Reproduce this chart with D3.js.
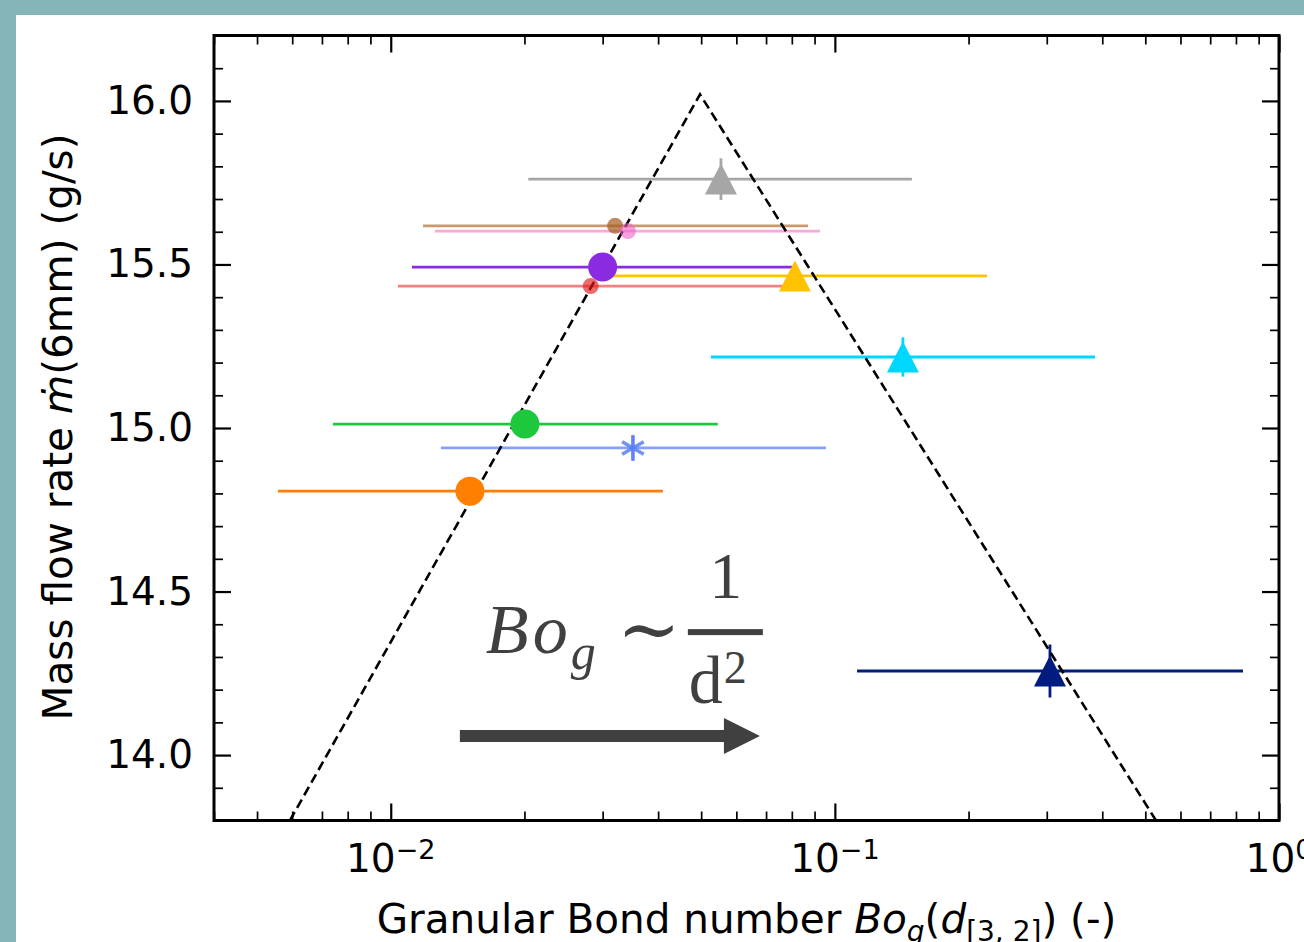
<!DOCTYPE html>
<html>
<head>
<meta charset="utf-8">
<script src="https://cdn.jsdelivr.net/npm/d3@7"></script>
<style>
  body { margin: 0; padding: 0; background: #ffffff; }
  svg { display: block; }
</style>
</head>
<body>
<svg id="Chart"></svg>
<script>
// samples, in drawing order
let sampleNames = ["gray", "cyan", "navy", "yellow", "brown", "pink", "red", "purple", "green", "blue", "orange"]
let bogValues = [0.0554, 0.1423, 0.305, 0.0813, 0.0320, 0.0342, 0.0282, 0.0300, 0.02005, 0.0351, 0.01508]
let bogLow = [0.0204, 0.0526, 0.1122, 0.0300, 0.01182, 0.01258, 0.01038, 0.01116, 0.00741, 0.01297, 0.00557]
let bogHigh = [0.1491, 0.3852, 0.8297, 0.2201, 0.0870, 0.0926, 0.0764, 0.0813, 0.0545, 0.0955, 0.0410]
let flowRates = [15.761, 15.217, 14.257, 15.465, 15.618, 15.602, 15.434, 15.492, 15.012, 14.939, 14.807]
let flowErr = [0.064, 0.06, 0.081, 0.03, 0, 0, 0, 0, 0, 0.04, 0]
let markerShapes = ["triangle", "triangle", "triangle", "triangle", "small", "small", "small", "circle", "circle", "asterisk", "circle"]
let markerColors = ["#a6a6a6", "#00d7ff", "#001c7f", "#ffc200", "#a65a1e", "#f062c8", "#e31a1c", "#8a2be2", "#1ec83c", "#5b7ff5", "#ff7f00"]
let markerAlpha = [1, 1, 1, 1, 0.7, 0.6, 0.65, 1, 1, 0.85, 1]
let lineColors = ["#a6a6a6", "#00d7ff", "#001c7f", "#ffc200", "#c99a6e", "#f7a8df", "#f38181", "#8a2be2", "#1ec83c", "#85a2f7", "#ff7f00"]

// dashed guide (Bo_g, mdot)
let guideX = [0.00593, 0.0497, 0.5285]
let guideY = [13.8, 16.02, 13.8]

// axes
let xMajorTicks = [0.01, 0.1, 1]
let xTickExponents = ["\u22122", "\u22121", "0"]
let yMajorTicks = [14.0, 14.5, 15.0, 15.5, 16.0]

// annotation arrow (data units)
let arrowX = [0.01431, 0.0678]
let arrowY = 14.058

let svg = d3.select("#Chart")

function getChartConfig(){
    let width = 1304
    let height = 942
    let margin = { top: 35.5, bottom: 121.5, left: 214, right: 25 }
    let bodyWidth = width - margin.left - margin.right
    let bodyHeight = height - margin.top - margin.bottom
    svg.attr("width", width).attr("height", height)
    return { width, height, margin, bodyWidth, bodyHeight }
}

function getScales(config){
    let { margin, bodyWidth, bodyHeight } = config
    let xScale = d3.scaleLog()
        .domain([0.004, 1])
        .range([margin.left, margin.left + bodyWidth])
    let yScale = d3.scaleLinear()
        .domain([13.8, 16.2])
        .range([margin.top + bodyHeight, margin.top])
    return { xScale, yScale }
}

function drawBackground(config){
    svg.append("rect").attr("width", config.width).attr("height", config.height).attr("fill", "#86b5b9")
    svg.append("rect").attr("x", 16).attr("y", 15)
        .attr("width", config.width - 16).attr("height", config.height - 15)
        .attr("fill", "#ffffff")
}

function drawAxes(scales, config){
    let { xScale, yScale } = scales
    let { margin, bodyWidth, bodyHeight } = config
    let bottom = margin.top + bodyHeight
    let right = margin.left + bodyWidth

    let xMinor = []
    ;[0.001, 0.01, 0.1].forEach(dec => {
        for (let k = 2; k <= 9; k++){
            let v = dec * k
            if (v >= 0.004 && v < 1) xMinor.push(v)
        }
    })
    let yMinor = d3.range(138, 163).map(d => d / 10).filter(d => Math.round(d * 10) % 5 !== 0)

    function styleAxis(g){
        g.select(".domain").remove()
        g.selectAll(".tick line").attr("stroke", "#000").attr("stroke-width", 2.2)
        g.selectAll("text").attr("font-family", "DejaVu Sans").attr("font-size", 39).attr("fill", "#000")
    }

    // bottom
    let gx = svg.append("g").attr("transform", `translate(0,${bottom})`)
        .call(d3.axisBottom(xScale).tickValues(xMajorTicks).tickSize(-17).tickPadding(0).tickFormat(""))
        .call(styleAxis)
    gx.selectAll(".tick text").remove()
    svg.append("g").attr("transform", `translate(0,${bottom})`)
        .call(d3.axisBottom(xScale).tickValues(xMinor).tickSize(-9).tickFormat(""))
        .call(styleAxis)
        .selectAll(".tick line").attr("stroke-width", 1.7)
    // top
    svg.append("g").attr("transform", `translate(0,${margin.top})`)
        .call(d3.axisTop(xScale).tickValues(xMajorTicks).tickSize(-17).tickFormat(""))
        .call(styleAxis)
    svg.append("g").attr("transform", `translate(0,${margin.top})`)
        .call(d3.axisTop(xScale).tickValues(xMinor).tickSize(-9).tickFormat(""))
        .call(styleAxis)
        .selectAll(".tick line").attr("stroke-width", 1.7)
    // left
    svg.append("g").attr("transform", `translate(${margin.left},0)`)
        .call(d3.axisLeft(yScale).tickValues(yMajorTicks).tickSize(-17).tickPadding(21).tickFormat(d3.format(".1f")))
        .call(styleAxis)
    svg.append("g").attr("transform", `translate(${margin.left},0)`)
        .call(d3.axisLeft(yScale).tickValues(yMinor).tickSize(-9).tickFormat(""))
        .call(styleAxis)
        .selectAll(".tick line").attr("stroke-width", 1.7)
    // right
    svg.append("g").attr("transform", `translate(${right},0)`)
        .call(d3.axisRight(yScale).tickValues(yMajorTicks).tickSize(-17).tickFormat(""))
        .call(styleAxis)
    svg.append("g").attr("transform", `translate(${right},0)`)
        .call(d3.axisRight(yScale).tickValues(yMinor).tickSize(-9).tickFormat(""))
        .call(styleAxis)
        .selectAll(".tick line").attr("stroke-width", 1.7)

    // x tick labels 10^n
    let labels = svg.append("g").attr("font-family", "DejaVu Sans").attr("fill", "#000")
    xMajorTicks.forEach((v, i) => {
        let t = labels.append("text")
            .attr("x", xScale(v)).attr("y", bottom + 51)
            .attr("text-anchor", "middle").attr("font-size", 39)
        t.append("tspan").text("10")
        t.append("tspan").attr("font-size", 27).attr("dy", -13).text(xTickExponents[i])
    })

    // frame
    svg.append("rect")
        .attr("x", margin.left).attr("y", margin.top)
        .attr("width", bodyWidth).attr("height", bodyHeight)
        .attr("fill", "none").attr("stroke", "#000").attr("stroke-width", 3)

    // axis titles
    let xt = svg.append("text")
        .attr("x", margin.left + bodyWidth / 2).attr("y", 933)
        .attr("text-anchor", "middle")
        .attr("font-family", "DejaVu Sans").attr("font-size", 40.5).attr("fill", "#000")
    xt.append("tspan").text("Granular Bond number ")
    xt.append("tspan").attr("font-style", "italic").text("Bo")
    xt.append("tspan").attr("font-style", "italic").attr("font-size", 28).attr("dy", 8).text("g")
    xt.append("tspan").attr("dy", -8).text("(")
    xt.append("tspan").attr("font-style", "italic").text("d")
    xt.append("tspan").attr("font-size", 28).attr("dy", 8).text("[3, 2]")
    xt.append("tspan").attr("dy", -8).text(") (-)")

    let yt = svg.append("text")
        .attr("transform", `translate(72,${margin.top + bodyHeight / 2 - 1}) rotate(-90)`)
        .attr("text-anchor", "middle")
        .attr("font-family", "DejaVu Sans").attr("font-size", 40.5).attr("fill", "#000")
    yt.append("tspan").text("Mass flow rate ")
    yt.append("tspan").attr("font-style", "italic").text("\u1E41")
    yt.append("tspan").text("(6mm) (g/s)")
}

function drawErrorbars(scales, config){
    let { xScale, yScale } = scales
    let { margin, bodyWidth, bodyHeight } = config
    svg.append("clipPath").attr("id", "plotClip").append("rect")
        .attr("x", margin.left).attr("y", margin.top)
        .attr("width", bodyWidth).attr("height", bodyHeight)
    let body = svg.append("g").attr("clip-path", "url(#plotClip)")

    sampleNames.forEach((name, i) => {
        body.append("line")
            .attr("x1", xScale(bogLow[i])).attr("x2", xScale(bogHigh[i]))
            .attr("y1", yScale(flowRates[i])).attr("y2", yScale(flowRates[i]))
            .attr("stroke", lineColors[i]).attr("stroke-width", 2.8)
        if (flowErr[i] > 0){
            body.append("line")
                .attr("x1", xScale(bogValues[i])).attr("x2", xScale(bogValues[i]))
                .attr("y1", yScale(flowRates[i] - flowErr[i])).attr("y2", yScale(flowRates[i] + flowErr[i]))
                .attr("stroke", lineColors[i]).attr("stroke-width", 2.8)
        }
    })

    // dashed guide
    let line = d3.line().x((d, i) => xScale(guideX[i])).y((d, i) => yScale(guideY[i]))
    body.append("path")
        .attr("d", line(guideX))
        .attr("fill", "none").attr("stroke", "#000")
        .attr("stroke-width", 2.6).attr("stroke-dasharray", "9.5,5")
    return body
}

function drawMarkers(scales, body){
    let { xScale, yScale } = scales
    sampleNames.forEach((name, i) => {
        let cx = xScale(bogValues[i])
        let cy = yScale(flowRates[i])
        let shape = markerShapes[i]
        if (shape === "triangle"){
            let h = 15.5
            body.append("path")
                .attr("d", `M${cx},${cy - h}L${cx + 16},${cy + h}L${cx - 16},${cy + h}Z`)
                .attr("fill", markerColors[i])
        } else if (shape === "circle" || shape === "small"){
            body.append("circle")
                .attr("cx", cx).attr("cy", cy)
                .attr("r", shape === "circle" ? 14.5 : 8)
                .attr("fill", markerColors[i]).attr("fill-opacity", markerAlpha[i])
        } else if (shape === "asterisk"){
            let g = body.append("g").attr("stroke", markerColors[i])
                .attr("stroke-width", 3.6).attr("stroke-opacity", markerAlpha[i])
            ;[90, 30, 150].forEach(a => {
                let r = 12.5
                let dx = r * Math.cos(a * Math.PI / 180)
                let dy = r * Math.sin(a * Math.PI / 180)
                g.append("line").attr("x1", cx - dx).attr("x2", cx + dx)
                    .attr("y1", cy - dy).attr("y2", cy + dy)
            })
        }
    })
}

function drawAnnotation(scales){
    let { xScale, yScale } = scales
    let x0 = xScale(arrowX[0])
    let x1 = xScale(arrowX[1])
    let y = yScale(arrowY)
    let color = "#404040"
    svg.append("path")
        .attr("d", `M${x0},${y - 6}L${x1 - 36},${y - 6}L${x1 - 36},${y - 18}L${x1},${y}L${x1 - 36},${y + 18}L${x1 - 36},${y + 6}L${x0},${y + 6}Z`)
        .attr("fill", color)

    let g = svg.append("g").attr("fill", color).attr("font-family", "Liberation Serif")
    let bo = g.append("text").attr("x", x0 + 26).attr("y", y - 83).attr("font-size", 70).attr("font-style", "italic")
    bo.append("tspan").text("B")
    bo.append("tspan").attr("dx", 4).text("o")
    bo.append("tspan").attr("font-size", 50).attr("dy", 16).attr("dx", 3).text("g")
    g.append("text").attr("x", x0 + 189).attr("y", y - 81).attr("font-family", "DejaVu Serif")
        .attr("font-size", 76).attr("text-anchor", "middle").text("\u223C")
    let fx = x0 + 266
    g.append("text").attr("x", fx).attr("y", y - 138).attr("font-size", 66).attr("text-anchor", "middle").text("1")
    g.append("rect").attr("x", fx - 38).attr("y", y - 107).attr("width", 75).attr("height", 6)
    let d = g.append("text").attr("x", fx - 37).attr("y", y - 33).attr("font-size", 68)
    d.append("tspan").text("d")
    d.append("tspan").attr("font-size", 46).attr("dy", -20).attr("dx", 1).text("2")
}

function drawChart(){
    let config = getChartConfig()
    let scales = getScales(config)
    drawBackground(config)
    let body = drawErrorbars(scales, config)
    drawMarkers(scales, body)
    drawAxes(scales, config)
    drawAnnotation(scales)
}

drawChart()
</script>
</body>
</html>
